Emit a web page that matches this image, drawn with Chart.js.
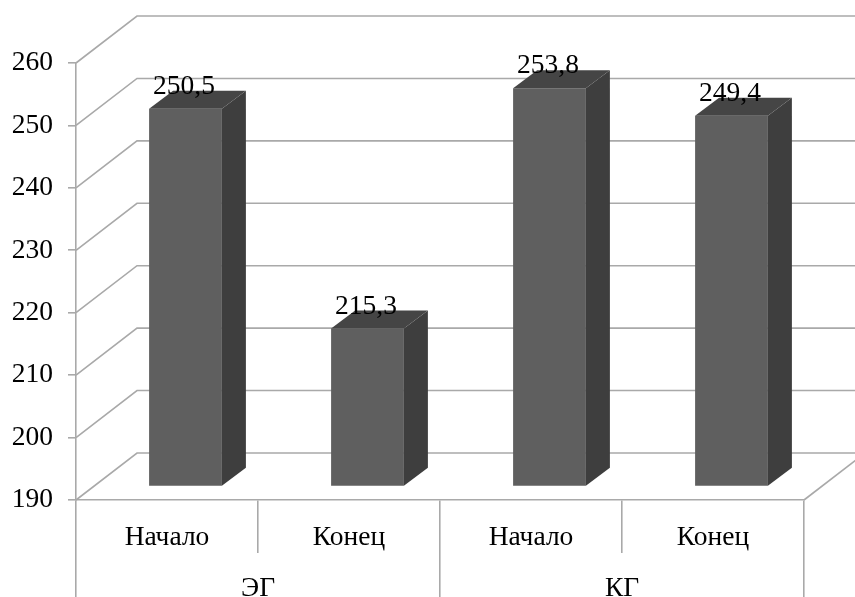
<!DOCTYPE html>
<html><head><meta charset="utf-8">
<style>html,body{margin:0;padding:0;background:#fff}#w{width:855px;height:597px;overflow:hidden}canvas{filter:blur(0.45px)}</style>
<script src="https://cdn.jsdelivr.net/npm/chart.js@4"></script></head>
<body><div id="w"><canvas id="c" width="855" height="597"></canvas></div>
<script>
const categories = ['Начало','Конец','Начало','Конец'];
const groups = ['ЭГ','КГ'];
const values = [250.5,215.3,253.8,249.4];
const axisMin = 190, axisMax = 260, axisStep = 10;
const FONT = '"Liberation Serif","Times New Roman",serif';
const FONT_SIZE = 27.5;
const LINE = '#a9a9a9';
const wallDX = 61, wallDY = 47, barDX = 18.5, barDY = 13.5, sideDX = 24, sideDY = 18;

const walls3d = {
  id:'walls3d',
  beforeDatasetsDraw(chart){
    const {ctx,scales:{y},chartArea:a} = chart;
    ctx.save();
    ctx.strokeStyle = LINE; ctx.lineWidth = 1.6;
    y.ticks.forEach(t=>{
      const p = y.getPixelForValue(t.value);
      ctx.beginPath();
      ctx.moveTo(a.left,p); ctx.lineTo(a.left+wallDX,p-wallDY); ctx.lineTo(a.right+wallDX,p-wallDY);
      ctx.stroke();
    });
    const b = y.getPixelForValue(axisMin);
    ctx.beginPath(); ctx.moveTo(a.right,b); ctx.lineTo(a.right+wallDX,b-wallDY); ctx.stroke();
    ctx.restore();
    ctx.save();
    ctx.translate(barDX,-barDY);
  },
  afterDatasetsDraw(chart){
    const {ctx} = chart;
    chart.getDatasetMeta(0).data.forEach((el,i)=>{
      const p = el.getProps(['x','y','base','width'],true);
      const l = p.x-p.width/2, r = p.x+p.width/2;
      ctx.fillStyle = '#3e3e3e';
      ctx.beginPath(); ctx.moveTo(r,p.y); ctx.lineTo(r+sideDX,p.y-sideDY); ctx.lineTo(r+sideDX,p.base-sideDY); ctx.lineTo(r,p.base); ctx.closePath(); ctx.fill();
      ctx.fillStyle = '#454545';
      ctx.beginPath(); ctx.moveTo(l,p.y); ctx.lineTo(l+sideDX,p.y-sideDY); ctx.lineTo(r+sideDX,p.y-sideDY); ctx.lineTo(r,p.y); ctx.closePath(); ctx.fill();
    });
    chart.getDatasetMeta(0).data.forEach((el,i)=>{
      const p = el.getProps(['x','y'],true);
      ctx.fillStyle = '#000'; ctx.font = FONT_SIZE+'px '+FONT; ctx.textAlign='center'; ctx.textBaseline='alphabetic';
      ctx.fillText(values[i].toFixed(1).replace('.',','), p.x-1.5, p.y-15);
    });
    ctx.restore();
  }
};

new Chart(document.getElementById('c'),{
  type:'bar',
  data:{labels:categories,datasets:[{data:values,backgroundColor:'#5f5f5f',borderWidth:0,barPercentage:0.4,categoryPercentage:1,clip:false,base:axisMin}]},
  plugins:[walls3d],
  options:{
    responsive:false,animation:false,
    layout:{padding:{top:63,right:51,left:0,bottom:0}},
    plugins:{legend:{display:false},tooltip:{enabled:false},title:{display:false}},
    scales:{
      y:{min:axisMin,max:axisMax,
        ticks:{stepSize:axisStep,color:'#000',padding:15,font:{family:FONT,size:FONT_SIZE}},
        grid:{drawOnChartArea:false,drawTicks:true,tickLength:8,color:LINE,lineWidth:1.6},
        border:{color:LINE,width:1.6},
        afterFit(s){s.width=76;}},
      x:{type:'category',position:'bottom',offset:true,
        ticks:{color:'#000',padding:-32,maxRotation:0,font:{family:FONT,size:FONT_SIZE}},
        grid:{offset:true,drawOnChartArea:false,drawTicks:true,tickLength:53,color:LINE,lineWidth:1.6},
        border:{color:LINE,width:1.6},
        afterFit(s){s.height=53;}},
      x2:{type:'category',position:'bottom',labels:groups,offset:true,
        ticks:{color:'#000',padding:-25,maxRotation:0,font:{family:FONT,size:FONT_SIZE}},
        grid:{offset:true,drawOnChartArea:false,drawTicks:true,tickLength:44,color:LINE,lineWidth:1.6},
        border:{display:false},
        afterFit(s){s.height=44;}}
    }
  }
});
</script></body></html>
